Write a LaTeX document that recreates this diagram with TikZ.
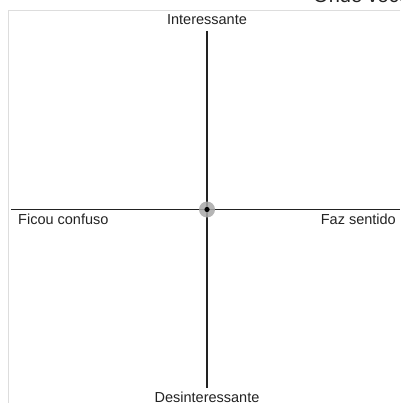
\documentclass[tikz,border=0pt]{standalone}
\usepackage{fontspec}
\setmainfont{Liberation Sans}
\definecolor{ink}{HTML}{222222}
\definecolor{frame}{HTML}{DDDDDD}
\definecolor{halo}{HTML}{A8A8A8}
\tikzset{
  axislabel/.style={inner sep=0pt, text=ink, font=\fontsize{14.5}{17}\selectfont},
  axis/.style={draw=ink, line width=1.8pt},
  framed/.style={draw=frame, line width=1pt}
}
\begin{document}
\begin{tikzpicture}[x=1pt,y=-1pt]
\useasboundingbox (0,0) rectangle (400,403);
\begin{scope}
\clip (0,0) rectangle (400,403);
\node[anchor=base west, inner sep=0pt, text=ink, font=\fontsize{20}{24}\selectfont] (title) at (313,3) {Onde vocês};
\draw[framed] (400,11) -- (8,11) -- (8,403);
\coordinate (top) at (207,31);
\coordinate (bottom) at (207,388);
\coordinate (left) at (11,209.5);
\coordinate (right) at (400,209.5);
\draw[axis] (top) -- (bottom);
\draw[axis] (left) -- (right);
\fill[halo, opacity=0.85] (207,209.5) circle (8);
\fill[black] (207,209.5) circle (2.6);
\node[axislabel] (interessante) at (207,20) {Interessante};
\node[axislabel, anchor=west] (confuso) at (18,219.5) {Ficou confuso};
\node[axislabel, anchor=east] (sentido) at (396,219.5) {Faz sentido};
\node[axislabel] (desinteressante) at (207,397.5) {Desinteressante};
\end{scope}
\end{tikzpicture}
\end{document}
